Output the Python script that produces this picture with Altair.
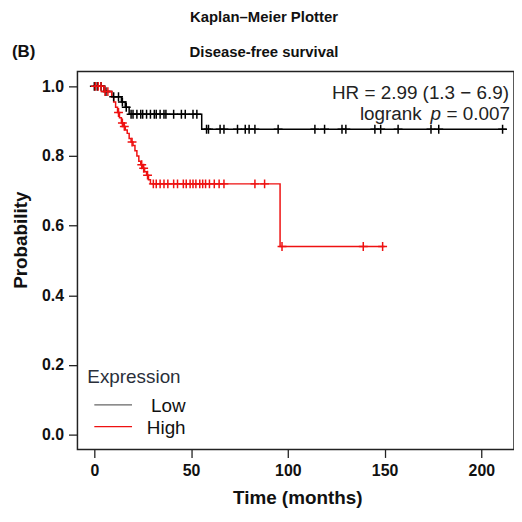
import altair as alt
import pandas as pd

# ---------------- data ----------------
groups = ["Low", "High"]
colors = ["#000000", "#ee1111"]

# Kaplan-Meier step functions (time in months, survival probability)
low_t = [0, 5, 9, 14, 16, 18, 55.5, 213]
low_s = [1.0, 0.985, 0.97, 0.955, 0.94, 0.92, 0.877, 0.877]
high_t = [0, 5, 9, 10, 11, 12, 13, 14, 15, 16, 17, 18, 19, 20, 21, 22, 23, 24,
          25, 26, 27, 28, 29, 96, 150]
high_s = [1.0, 0.985, 0.97, 0.955, 0.94, 0.925, 0.91, 0.895, 0.885, 0.875,
          0.865, 0.85, 0.84, 0.83, 0.815, 0.80, 0.785, 0.775, 0.765, 0.755,
          0.745, 0.732, 0.72, 0.54, 0.54]

# censored observations (time in months)
low_cens = [0, 1.5, 3.5, 6, 10, 12.5, 14.5, 16.5, 19, 20, 22, 24, 25, 27, 29,
            31, 32, 34, 36, 37, 41, 45, 47, 51, 53, 58, 59, 65, 67, 74, 78, 80,
            83, 95, 114, 119, 128, 130, 145, 148, 157, 174, 178, 211]
high_cens = [0.5, 2, 3.5, 5.5, 7, 12.5, 14.5, 15.5, 19.5, 24.5, 25.5, 27.5,
             30.5, 32, 34, 36, 38, 41, 43, 46, 47.5, 49.5, 51, 52.5, 54.5, 56,
             57.5, 59.5, 62, 64.5, 67, 83, 88, 97, 139, 149]

x_ticks = [0, 50, 100, 150, 200]
y_ticks = [0.0, 0.2, 0.4, 0.6, 0.8, 1.0]

title_main = "Kaplan\u2013Meier Plotter"
title_sub = "Disease-free survival"
panel_label = "(B)"
x_title = "Time (months)"
y_title = "Probability"
hr_text = "HR = 2.99 (1.3 \u2212 6.9)"
logrank_word = "logrank"
p_symbol = "p"
p_value = "= 0.007"
legend_title = "Expression"
legend_line_colors = ["#666666", "#ee1111"]

FONT = "Liberation Sans"
W, H = 440, 381
X_DOM = [-8.72, 216.9]
Y_DOM = [-0.0427, 1.0427]


def surv_at(ts, ss, t):
    val = ss[0]
    for ti, si in zip(ts, ss):
        if ti <= t:
            val = si
    return val


lines = pd.DataFrame(
    [{"t": t, "s": s, "group": "Low"} for t, s in zip(low_t, low_s)]
    + [{"t": t, "s": s, "group": "High"} for t, s in zip(high_t, high_s)]
)
cens = pd.DataFrame(
    [{"t": t, "s": surv_at(low_t, low_s, t), "group": "Low"} for t in low_cens]
    + [{"t": t, "s": surv_at(high_t, high_s, t), "group": "High"} for t in high_cens]
)

xs = alt.Scale(domain=X_DOM, nice=False, zero=False)
ys = alt.Scale(domain=Y_DOM, nice=False, zero=False)
cs = alt.Scale(domain=groups, range=colors)

x_axis = alt.Axis(values=x_ticks, title=None, domain=False, grid=False,
                  tickSize=8, tickWidth=1.3, tickColor="#222",
                  labelFont=FONT, labelFontSize=16, labelFontWeight="bold",
                  labelColor="#111", labelPadding=5)
y_axis = alt.Axis(values=y_ticks, title=None, domain=False, grid=False,
                  format=".1f", tickSize=9, tickWidth=1.3, tickColor="#222",
                  labelFont=FONT, labelFontSize=16, labelFontWeight="bold",
                  labelColor="#111", labelPadding=5)

steps = alt.Chart(lines).mark_line(interpolate="step-after", strokeWidth=1.5).encode(
    x=alt.X("t:Q", scale=xs, axis=x_axis),
    y=alt.Y("s:Q", scale=ys, axis=y_axis),
    color=alt.Color("group:N", scale=cs, legend=None),
    detail="group:N",
)

marks = alt.Chart(cens).mark_point(
    shape="M-1,0H1M0,-1V1", filled=False, size=80, strokeWidth=1.5, opacity=1
).encode(
    x=alt.X("t:Q", scale=xs),
    y=alt.Y("s:Q", scale=ys),
    color=alt.Color("group:N", scale=cs, legend=None),
)


def label(text, x, y, size, weight="normal", align="center", baseline="middle",
          color="#111", angle=0, style="normal"):
    kw = dict(font=FONT, fontSize=size, fontWeight=weight, align=align,
              baseline=baseline, color=color, fontStyle=style)
    if angle:
        kw["angle"] = angle
    return alt.Chart(pd.DataFrame({"txt": [text]})).mark_text(**kw).encode(
        x=alt.value(x), y=alt.value(y), text="txt:N")


texts = [
    label(title_main, 188, -55, 15, weight="bold"),
    label(title_sub, 188, -20, 15, weight="bold"),
    label(panel_label, -66, -20, 17, weight="bold", align="left"),
    label(x_title, 222, 430, 19, weight="bold"),
    label(y_title, -57, 170, 19, weight="bold", angle=270),
    label(hr_text, 435, 22, 19, align="right", color="#222"),
    label(logrank_word, 347, 43, 19, align="right", color="#222"),
    label(p_symbol, 361, 43, 19, color="#222", style="italic"),
    label(p_value, 372, 43, 19, align="left", color="#222"),
    label(legend_title, 10, 308, 19, align="left", color="#2a2f3a"),
    label(groups[0], 109, 337, 19, align="right", color="#111"),
    label(groups[1], 109, 359, 19, align="right", color="#111"),
]

leg_lines = [
    alt.Chart(pd.DataFrame({"g": [g]})).mark_rule(color=c, strokeWidth=1.3).encode(
        x=alt.value(17), x2=alt.value(55), y=alt.value(yy))
    for g, c, yy in zip(groups, legend_line_colors, [336, 358])
]

chart = alt.layer(steps, marks, *texts, *leg_lines).properties(
    width=W, height=H,
    autosize=alt.AutoSizeParams(type="none"),
    padding={"left": 70, "top": 62, "right": 0, "bottom": 60},
    background="white",
).configure_view(stroke="#222", strokeWidth=1.5)

chart.save("out.html", embed_options={"renderer": "svg", "actions": False})
